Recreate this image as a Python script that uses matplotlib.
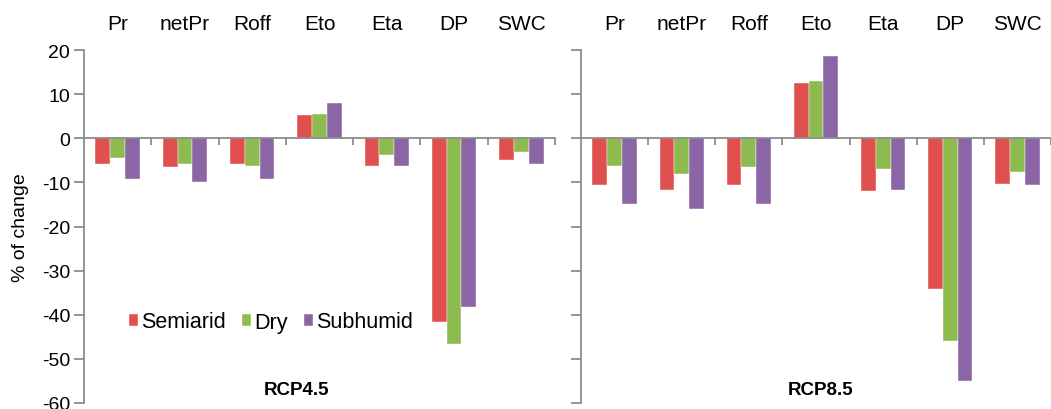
import numpy as np
import matplotlib
matplotlib.use("Agg")
import matplotlib.pyplot as plt
import matplotlib.transforms as mtransforms

plt.rcParams["font.family"] = ["Liberation Sans", "DejaVu Sans"]
plt.rcParams["axes.unicode_minus"] = False

categories = ["Pr", "netPr", "Roff", "Eto", "Eta", "DP", "SWC"]
regions = ["Semiarid", "Dry", "Subhumid"]
colors = ["#E0504E", "#8DBB4F", "#8B66A6"]

# % of change per region, RCP4.5
rcp45_semiarid = [-5.8, -6.6, -5.8, 5.2, -6.2, -41.7, -4.9]
rcp45_dry = [-4.5, -5.8, -6.2, 5.5, -3.8, -46.7, -3.2]
rcp45_subhumid = [-9.3, -9.9, -9.3, 7.9, -6.2, -38.3, -5.8]

# % of change per region, RCP8.5
rcp85_semiarid = [-10.7, -11.7, -10.7, 12.6, -11.9, -34.2, -10.3]
rcp85_dry = [-6.2, -8.2, -6.5, 13.0, -7.0, -46.0, -7.6]
rcp85_subhumid = [-14.9, -16.0, -14.9, 18.7, -11.7, -55.1, -10.7]

panels = [
    ("RCP4.5", [rcp45_semiarid, rcp45_dry, rcp45_subhumid], 3.16),
    ("RCP8.5", [rcp85_semiarid, rcp85_dry, rcp85_subhumid], 3.57),
]

fig = plt.figure(figsize=(10.51, 4.10), dpi=100)
ax_left = fig.add_axes([84 / 1051, 1 - 404 / 410, 471 / 1051, 353 / 410])
ax_right = fig.add_axes([581 / 1051, 1 - 404 / 410, 470 / 1051, 353 / 410])
axes = [ax_left, ax_right]

x = np.arange(len(categories)) + 0.5
width = 0.22
grey = "#8C8C8C"

for pi, (ax, (title, series, title_x)) in enumerate(zip(axes, panels)):
    for si, vals in enumerate(series):
        ax.bar(x + (si - 1) * width, vals, width, color=colors[si],
               edgecolor="white", linewidth=0.3, label=regions[si], zorder=2)

    ax.set_xlim(0, len(categories))
    ax.set_ylim(-60, 20)
    ax.set_yticks(np.arange(-60, 21, 10))
    ax.spines["top"].set_visible(False)
    ax.spines["right"].set_visible(False)
    ax.spines["left"].set_color(grey)
    ax.spines["left"].set_linewidth(1.3)
    ax.spines["bottom"].set_position(("data", 0))
    ax.spines["bottom"].set_color(grey)
    ax.spines["bottom"].set_linewidth(1.3)
    ax.spines["bottom"].set_zorder(3)
    ax.set_xticks(np.arange(1, len(categories) + 1))
    ax.set_xticklabels([])
    ax.tick_params(axis="x", direction="out", length=5, width=1.3, color=grey)
    ax.tick_params(axis="y", direction="out", length=7, width=1.3, color=grey,
                   labelsize=14, pad=3)
    if pi == 1:
        ax.set_yticklabels([])
    ax.patch.set_alpha(0)

    top = mtransforms.blended_transform_factory(ax.transData, fig.transFigure)
    for xi, cat in zip(x, categories):
        ax.text(xi, 1 - 25 / 410, cat, transform=top, ha="center", va="center",
                fontsize=15)
    ax.text(title_x, 0.048, title, transform=top, ha="center", va="center",
            fontsize=13.5, fontweight="bold")

fig.text(21 / 1051, 1 - 228 / 410, "% of change", rotation=90,
         ha="center", va="center", fontsize=14)

ax_left.legend(loc="center", bbox_to_anchor=(271 / 1051, 1 - 323 / 410),
               bbox_transform=fig.transFigure, ncol=3, frameon=False,
               fontsize=15.5, handlelength=0.42, handleheight=0.5,
               handletextpad=0.15, columnspacing=0.75, borderpad=0)

fig.savefig("out.png", dpi=100)
